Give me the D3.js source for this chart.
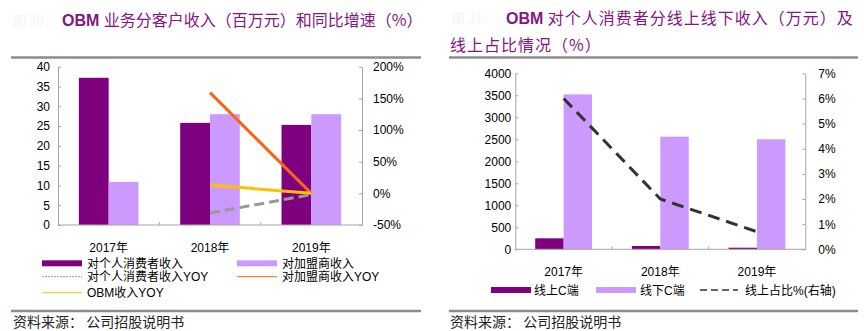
<!DOCTYPE html>
<html lang="zh-CN">
<head>
<meta charset="UTF-8">
<title>OBM 收入</title>
<script src="https://cdn.jsdelivr.net/npm/d3@7"></script>
<style>
  body { margin: 0; background: #fff; }
  svg { display: block; font-family: "Liberation Sans", Arial, "Noto Sans CJK SC", sans-serif; }
  .axis path, .axis line { stroke: #a6a6a6; }
  .axis text { font-size: 12px; fill: #000; }
  .title { font-size: 16px; fill: #841584; font-family: "Noto Sans CJK SC", sans-serif; }
  .title .en { font-family: "Liberation Sans", Arial, sans-serif; font-weight: bold; }
  .fig { fill: #f4f4f4; font-size: 13px; }
  .legend text { font-size: 12px; fill: #000; }
  .source { font-size: 14px; fill: #222; font-family: "Noto Sans CJK SC", sans-serif; }
  .rule { stroke: #8c8c8c; stroke-width: 2.5; }
</style>
</head>
<body>
<svg id="chart" width="864" height="331"></svg>
<script>
// categories
const years = ["2017年", "2018年", "2019年"];

// left chart: OBM revenue by customer (百万元) and YOY (%)
const personalRev = [37.2, 25.8, 25.3];
const franchiseRev = [10.9, 28.0, 28.0];
const personalYoy = [null, -31, -2];
const franchiseYoy = [null, 159, 0];
const obmYoy = [null, 13, 0];
const leftTicks = [0, 5, 10, 15, 20, 25, 30, 35, 40];
const leftPctTicks = [-50, 0, 50, 100, 150, 200];

// right chart: personal consumers online / offline (万元) and online share (%)
const onlineRev = [250, 75, 36];
const offlineRev = [3520, 2560, 2500];
const onlineShare = [6.0, 2.0, 0.7];
const rightTicks = [0, 500, 1000, 1500, 2000, 2500, 3000, 3500, 4000];
const rightPctTicks = [0, 1, 2, 3, 4, 5, 6, 7];

const DARK = "#7f007f", LIGHT = "#cc99ff";

const svg = d3.select("#chart");

function ruleLine(x1, x2, y) {
  svg.append("line").attr("class", "rule")
    .attr("x1", x1).attr("x2", x2).attr("y1", y).attr("y2", y);
}

// ---------- left chart ----------
{
  const L = 58, R = 362, T = 66.7, B = 225;
  const x = d3.scaleBand().domain(years).range([L, R]);
  const xs = d3.scaleBand().domain(["a", "b"]).range([0, x.bandwidth()]).paddingOuter(0.7);
  const y = d3.scaleLinear().domain([0, 40]).range([B, T]);
  const y2 = d3.scaleLinear().domain([-50, 200]).range([B, T]);

  // title
  svg.append("text").attr("class", "title fig").attr("x", 13).attr("y", 25).text("图 30：");
  const t = svg.append("text").attr("class", "title").attr("x", 62).attr("y", 26);
  t.append("tspan").attr("class", "en").text("OBM ");
  t.append("tspan").text("业务分客户收入（百万元）和同比增速（%）");
  ruleLine(11, 421, 57.5);

  svg.append("g").attr("class", "axis").attr("transform", `translate(${L},0)`)
    .call(d3.axisLeft(y).tickValues(leftTicks).tickSizeInner(-3).tickSizeOuter(0).tickPadding(8));
  svg.append("g").attr("class", "axis").attr("transform", `translate(${R},0)`)
    .call(d3.axisRight(y2).tickValues(leftPctTicks).tickSizeInner(-3).tickSizeOuter(0).tickPadding(11)
      .tickFormat(d => d + "%"));

  // bars
  const g = svg.append("g");
  years.forEach((yr, i) => {
    g.append("rect").attr("x", x(yr) + xs("a")).attr("width", xs.bandwidth())
      .attr("y", y(personalRev[i])).attr("height", B - y(personalRev[i])).attr("fill", DARK);
    g.append("rect").attr("x", x(yr) + xs("b")).attr("width", xs.bandwidth())
      .attr("y", y(franchiseRev[i])).attr("height", B - y(franchiseRev[i])).attr("fill", LIGHT);
  });

  // x axis with ticks between categories
  const xa = svg.append("g").attr("class", "axis").attr("transform", `translate(0,${B})`);
  xa.append("line").attr("x1", L).attr("x2", R).attr("stroke", "#a6a6a6");
  xa.selectAll("line.tk").data(years.slice(1)).join("line").attr("class", "tk")
    .attr("x1", d => x(d)).attr("x2", d => x(d)).attr("y1", 0).attr("y2", -3).attr("stroke", "#a6a6a6");
  xa.selectAll("text").data(years).join("text")
    .attr("x", d => x(d) + x.bandwidth() / 2).attr("y", 27).attr("text-anchor", "middle").text(d => d);

  // YOY lines
  const line = d3.line().defined(d => d[1] != null)
    .x(d => x(d[0]) + x.bandwidth() / 2).y(d => y2(d[1]));
  const pts = arr => years.map((yr, i) => [yr, arr[i]]);
  svg.append("path").attr("d", line(pts(personalYoy))).attr("fill", "none")
    .attr("stroke", "#999").attr("stroke-width", 3).attr("stroke-dasharray", "10,5");
  svg.append("path").attr("d", line(pts(franchiseYoy))).attr("fill", "none")
    .attr("stroke", "#fa6414").attr("stroke-width", 3);
  svg.append("path").attr("d", line(pts(obmYoy))).attr("fill", "none")
    .attr("stroke", "#ffc000").attr("stroke-width", 3);

  // legend
  const lg = svg.append("g").attr("class", "legend");
  const items = [
    { name: "对个人消费者收入", type: "rect", color: DARK, x: 42, y: 263.3 },
    { name: "对加盟商收入", type: "rect", color: LIGHT, x: 237, y: 263.3 },
    { name: "对个人消费者收入YOY", type: "dot", color: "#999", x: 42, y: 276.7 },
    { name: "对加盟商收入YOY", type: "line", color: "#fa6414", x: 237, y: 276.7 },
    { name: "OBM收入YOY", type: "line", color: "#ffc000", x: 42, y: 292.7 }
  ];
  items.forEach(it => {
    if (it.type === "rect") {
      lg.append("rect").attr("x", it.x).attr("y", it.y - 3).attr("width", 40).attr("height", 6).attr("fill", it.color);
    } else {
      lg.append("line").attr("x1", it.x).attr("x2", it.x + 40).attr("y1", it.y).attr("y2", it.y)
        .attr("stroke", it.color).attr("stroke-width", 1)
        .attr("stroke-dasharray", it.type === "dot" ? "2,1" : null);
    }
    lg.append("text").attr("x", it.x + 45).attr("y", it.y + 4.5).text(it.name);
  });

  ruleLine(11, 421, 311);
  svg.append("text").attr("class", "source").attr("x", 13).attr("y", 327).text("资料来源： 公司招股说明书");
}

// ---------- right chart ----------
{
  const L = 515.3, R = 805.3, T = 73.3, B = 249.3;
  const x = d3.scaleBand().domain(years).range([L, R]);
  const xs = d3.scaleBand().domain(["a", "b"]).range([0, x.bandwidth()]).paddingOuter(0.7);
  const y = d3.scaleLinear().domain([0, 4000]).range([B, T]);
  const y2 = d3.scaleLinear().domain([0, 7]).range([B, T]);

  svg.append("text").attr("class", "title fig").attr("x", 452).attr("y", 23).text("图 31：");
  const t = svg.append("text").attr("class", "title").attr("x", 506).attr("y", 24);
  t.append("tspan").attr("class", "en").text("OBM ");
  t.append("tspan").attr("letter-spacing", "1px").text("对个人消费者分线上线下收入（万元）及");
  svg.append("text").attr("class", "title").attr("x", 450).attr("y", 51)
    .attr("letter-spacing", "1px").text("线上占比情况（%）");
  ruleLine(449, 858, 57.5);

  svg.append("g").attr("class", "axis").attr("transform", `translate(${L},0)`)
    .call(d3.axisLeft(y).tickValues(rightTicks).tickSizeInner(-3).tickSizeOuter(0).tickPadding(4)
      .tickFormat(d3.format("d")));
  svg.append("g").attr("class", "axis").attr("transform", `translate(${R},0)`)
    .call(d3.axisRight(y2).tickValues(rightPctTicks).tickSizeInner(-3).tickSizeOuter(0).tickPadding(13)
      .tickFormat(d => d + "%"));

  const g = svg.append("g");
  years.forEach((yr, i) => {
    g.append("rect").attr("x", x(yr) + xs("a")).attr("width", xs.bandwidth())
      .attr("y", y(onlineRev[i])).attr("height", B - y(onlineRev[i])).attr("fill", DARK);
    g.append("rect").attr("x", x(yr) + xs("b")).attr("width", xs.bandwidth())
      .attr("y", y(offlineRev[i])).attr("height", B - y(offlineRev[i])).attr("fill", LIGHT);
  });

  const xa = svg.append("g").attr("class", "axis").attr("transform", `translate(0,${B})`);
  xa.append("line").attr("x1", L).attr("x2", R).attr("stroke", "#a6a6a6");
  xa.selectAll("line.tk").data(years.slice(1)).join("line").attr("class", "tk")
    .attr("x1", d => x(d)).attr("x2", d => x(d)).attr("y1", 0).attr("y2", -3).attr("stroke", "#a6a6a6");
  xa.selectAll("text").data(years).join("text")
    .attr("x", d => x(d) + x.bandwidth() / 2).attr("y", 27).attr("text-anchor", "middle").text(d => d);

  const line = d3.line().x((d, i) => x(years[i]) + x.bandwidth() / 2).y(d => y2(d));
  svg.append("path").attr("d", line(onlineShare)).attr("fill", "none")
    .attr("stroke", "#333").attr("stroke-width", 3).attr("stroke-dasharray", "12,7");

  const lg = svg.append("g").attr("class", "legend");
  const ly = 290;
  lg.append("rect").attr("x", 491).attr("y", ly - 3).attr("width", 40).attr("height", 6).attr("fill", DARK);
  lg.append("text").attr("x", 534).attr("y", ly + 4.5).text("线上C端");
  lg.append("rect").attr("x", 596).attr("y", ly - 3).attr("width", 40).attr("height", 6).attr("fill", LIGHT);
  lg.append("text").attr("x", 640).attr("y", ly + 4.5).text("线下C端");
  lg.append("line").attr("x1", 700).attr("x2", 738).attr("y1", ly).attr("y2", ly)
    .attr("stroke", "#333").attr("stroke-width", 1.5).attr("stroke-dasharray", "7,4");
  lg.append("text").attr("x", 745).attr("y", ly + 4.5).text("线上占比%(右轴)");

  ruleLine(449, 858, 311);
  svg.append("text").attr("class", "source").attr("x", 450).attr("y", 327).text("资料来源： 公司招股说明书");
}
</script>
</body>
</html>
